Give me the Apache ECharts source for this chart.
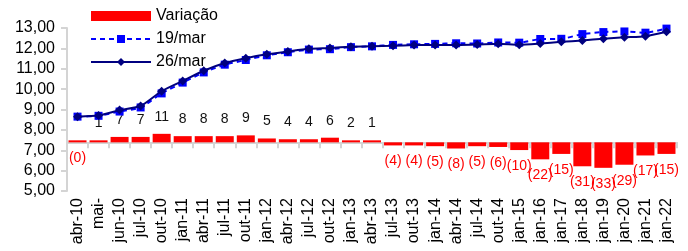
<!DOCTYPE html>
<html>
<head>
<meta charset="utf-8">
<script src="https://cdn.jsdelivr.net/npm/echarts@6/dist/echarts.min.js"></script>
<style>
  html, body { margin: 0; padding: 0; background: #fff; }
  #chart { width: 688px; height: 251px; }
</style>
</head>
<body>
<div id="chart"></div>
<script>
// categorias (datas)
var categorias = ['abr-10', 'mai-', 'jun-10', 'jul-10', 'out-10', 'jan-11', 'abr-11', 'jul-11', 'out-11',
    'jan-12', 'abr-12', 'jul-12', 'out-12', 'jan-13', 'abr-13', 'jul-13', 'out-13', 'jan-14', 'abr-14',
    'jul-14', 'out-14', 'jan-15', 'jan-16', 'jan-17', 'jan-18', 'jan-19', 'jan-20', 'jan-21', 'jan-22'];

// curva 19/mar
var curva19 = [8.65, 8.69, 8.90, 9.10, 9.79, 10.32, 10.82, 11.20, 11.43, 11.66, 11.81, 11.94, 11.96, 12.06,
    12.10, 12.17, 12.20, 12.22, 12.25, 12.24, 12.29, 12.28, 12.46, 12.47, 12.70, 12.80, 12.83, 12.77, 12.97];

// curva 26/mar
var curva26 = [8.65, 8.70, 8.97, 9.17, 9.90, 10.40, 10.90, 11.28, 11.52, 11.71, 11.85, 11.98, 12.02, 12.08,
    12.11, 12.13, 12.16, 12.17, 12.17, 12.19, 12.23, 12.18, 12.24, 12.32, 12.39, 12.47, 12.54, 12.60, 12.82];

// variação (bps)
var variacao = [0, 1, 7, 7, 11, 8, 8, 8, 9, 5, 4, 4, 6, 2, 1, -4, -4, -5, -8, -5, -6, -10, -22, -15,
    -31, -33, -29, -17, -15];

var fonte = "'Liberation Sans', Arial, sans-serif";

var myChart = echarts.init(document.getElementById('chart'));

var barras = [];
for (var i in variacao) {
    var v = variacao[i];
    var neg = v <= 0;
    barras.push({
        value: v,
        label: {
            show: true,
            position: neg ? 'bottom' : 'top',
            distance: neg ? 9 : 10,
            color: neg ? '#ff0000' : '#111',
            fontSize: 14,
            fontFamily: fonte,
            formatter: neg ? '(' + Math.abs(v) + ')' : String(v),
        },
    });
}

var option = {
    animation: false,
    backgroundColor: '#fff',
    textStyle: { fontFamily: fonte },
    legend: {
        orient: 'vertical',
        left: 85,
        top: 3,
        itemWidth: 60,
        itemHeight: 10,
        itemGap: 7,
        textStyle: { fontSize: 16, color: '#000', fontFamily: fonte },
        data: [
            { name: 'Variação', icon: 'rect' },
            { name: '19/mar' },
            { name: '26/mar' },
        ],
    },
    grid: {
        left: 67,
        right: 11,
        top: 28,
        bottom: 60,
    },
    xAxis: {
        type: 'category',
        data: categorias,
        axisLine: { lineStyle: { color: '#d4d4d4', width: 2 } },
        axisTick: { show: true, interval: 0, length: 6, lineStyle: { color: '#d4d4d4', width: 2 } },
        axisLabel: {
            interval: 0,
            rotate: 90,
            margin: 7,
            fontSize: 16,
            color: '#000',
            fontFamily: fonte,
        },
    },
    yAxis: [
        {
            type: 'value',
            min: 5,
            max: 13,
            interval: 1,
            splitLine: { show: false },
            axisLine: { show: true, lineStyle: { color: '#d4d4d4', width: 2 } },
            axisTick: { show: true, length: 6, lineStyle: { color: '#d4d4d4', width: 2 } },
            axisLabel: {
                fontSize: 16,
                color: '#000',
                margin: 12,
                fontFamily: fonte,
                formatter: function (val) {
                    return val.toFixed(2).replace('.', ',');
                },
            },
        },
        {
            type: 'value',
            min: -63,
            max: 148,
            show: false,
            splitLine: { show: false },
        },
    ],
    series: [
        {
            name: 'Variação',
            type: 'bar',
            yAxisIndex: 1,
            data: barras,
            barWidth: 18,
            barMinHeight: 2,
            itemStyle: { color: '#ff0000' },
            z: 2,
        },
        {
            name: '19/mar',
            type: 'line',
            data: curva19,
            smooth: 0.2,
            symbol: 'rect',
            symbolSize: 8,
            lineStyle: { color: '#0000ff', width: 2, type: [5, 4] },
            itemStyle: { color: '#0000ff' },
            z: 3,
        },
        {
            name: '26/mar',
            type: 'line',
            data: curva26,
            smooth: 0.2,
            symbol: 'diamond',
            symbolSize: [9, 9],
            lineStyle: { color: '#000080', width: 2 },
            itemStyle: { color: '#000080' },
            z: 4,
        },
    ],
};

myChart.setOption(option);
</script>
</body>
</html>
